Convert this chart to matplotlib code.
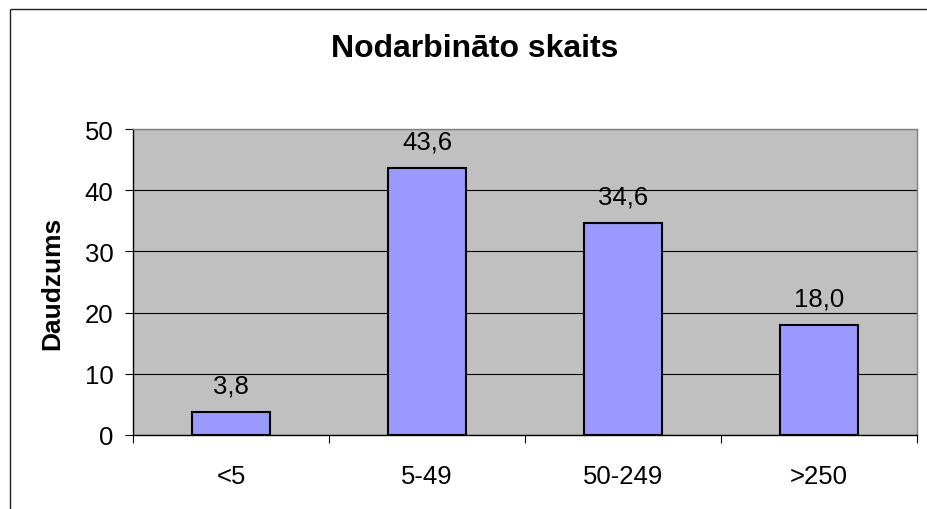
import matplotlib
matplotlib.use("Agg")
import matplotlib.pyplot as plt
from matplotlib.lines import Line2D

categories = ["<5", "5-49", "50-249", ">250"]
values = [3.8, 43.6, 34.6, 18.0]
labels = ["3,8", "43,6", "34,6", "18,0"]
yticks = [0, 10, 20, 30, 40, 50]

plt.rcParams['font.family'] = ['Liberation Sans', 'DejaVu Sans']

W, H = 928, 510
fig = plt.figure(figsize=(W / 100, H / 100), dpi=100)
fig.patch.set_facecolor('white')

# chart-area border (left & top visible)
fig.add_artist(Line2D([10 / W, 10 / W], [0, 1 - 10 / H], transform=fig.transFigure,
                      color='#202020', lw=1.0, solid_capstyle='butt'))
fig.add_artist(Line2D([10 / W, 1.01], [1 - 10 / H, 1 - 10 / H], transform=fig.transFigure,
                      color='#202020', lw=1.0, solid_capstyle='butt'))

ax = fig.add_axes([133 / W, (H - 436) / H, (917 - 133) / W, (436 - 130) / H])
ax.set_facecolor('#C0C0C0')

x = list(range(len(categories)))
ax.bar(x, values, width=0.40, color='#9999FF', edgecolor='black', linewidth=1.5, zorder=3)

ax.set_xlim(-0.5, len(categories) - 0.5)
ax.set_ylim(0, 50)
ax.set_yticks(yticks)
ax.set_yticklabels([str(v) for v in yticks], fontsize=18.5)
ax.yaxis.grid(True, color='black', lw=0.8, zorder=1)
ax.set_axisbelow(True)

ax.set_xticks(x)
ax.set_xticklabels(categories, fontsize=18.5)
ax.tick_params(axis='x', which='major', length=0, pad=21)
ax.set_xticks([i - 0.5 for i in range(len(categories) + 1)], minor=True)
ax.tick_params(axis='x', which='minor', length=5.5, width=0.8, color='black', direction='out')
ax.tick_params(axis='y', length=6, width=0.8, pad=8, direction='out')

for s in ['top', 'right']:
    ax.spines[s].set_color('#808080')
    ax.spines[s].set_linewidth(1.0)
for s in ['left', 'bottom']:
    ax.spines[s].set_color('black')
    ax.spines[s].set_linewidth(1.0)

for xi, v, lab in zip(x, values, labels):
    ax.annotate(lab, (xi, v), xytext=(0, 14), textcoords='offset points',
                ha='center', va='baseline', fontsize=18.5)

ax.set_ylabel("Daudzums", fontsize=19, fontweight='bold')
ax.yaxis.set_label_coords(-(133 - 64) / (917 - 133), 0.5)

fig.text(475 / W, (H - 57) / H, "Nodarbināto skaits", ha='center', va='baseline',
         fontsize=23, fontweight='bold')

fig.savefig("out.png", dpi=100)
